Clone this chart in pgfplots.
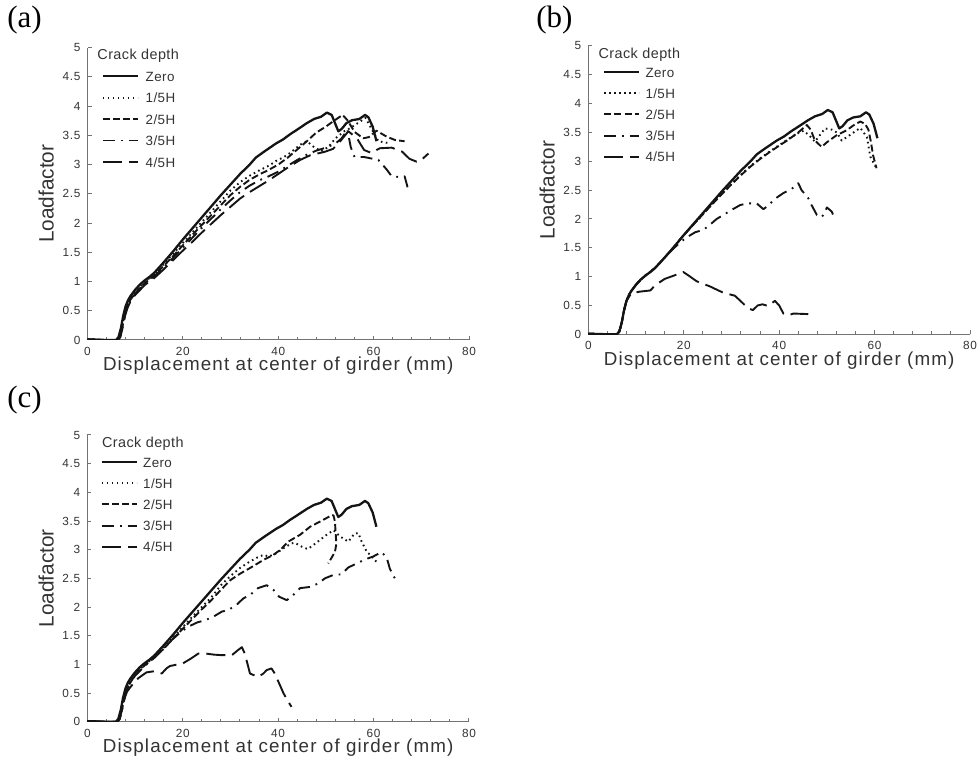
\documentclass[border=0pt]{standalone}
\usepackage{fontspec}
\setmainfont{Liberation Sans}
\newfontfamily\panelfont{Liberation Serif}
\newfontfamily\widefont[LetterSpace=6]{Liberation Sans}
\newfontfamily\legfont[LetterSpace=3]{Liberation Sans}
\usepackage{pgfplots}
\usepackage{pgfplotstable}
\pgfplotsset{compat=1.18}

\definecolor{axgray}{gray}{0.45}
\definecolor{labgray}{gray}{0.2}
\definecolor{curve}{gray}{0.08}

% ---------- load-displacement data (x: mm, y: load factor) ----------
\pgfplotstableread{
x y
0 0.01
2 0.005
4 0
6 0
6.5 0.05
7 0.2
7.5 0.42
8 0.58
8.5 0.68
9 0.75
10 0.86
11 0.95
12 1.02
13 1.08
14 1.15
16 1.33
18 1.52
20 1.72
22 1.91
24 2.1
26 2.29
28 2.48
30 2.66
32 2.84
34 3.0
35.3 3.12
37 3.22
39.5 3.36
41 3.43
42.5 3.52
44 3.6
46 3.71
47.5 3.78
49 3.82
50.2 3.89
51.2 3.85
52.6 3.57
53.3 3.61
54.3 3.71
55.5 3.76
57 3.78
58.2 3.85
58.9 3.81
59.8 3.65
60.6 3.4
}\zero

% (a)
\pgfplotstableread{
x y
0 0.01
3 0
6.2 0
6.7 0.05
7.2 0.22
7.7 0.42
8.2 0.58
9 0.71
10 0.82
12 0.99
14 1.13
16 1.3
18 1.48
20 1.66
22 1.84
24 2.02
26 2.2
28 2.38
30 2.56
32 2.7
34 2.81
36 2.9
38 2.98
39.7 3.07
41 3.12
42.5 3.2
44.6 3.34
46 3.4
47.5 3.3
49 3.23
50.5 3.3
52 3.45
54 3.58
55 3.62
56.5 3.7
58.3 3.8
59.5 3.62
61 3.4
63 3.37
}\aOne
\pgfplotstableread{
x y
0 0.01
3 0
6.3 0
6.8 0.05
7.3 0.22
7.8 0.42
8.3 0.57
9 0.69
10 0.8
12 0.97
14 1.11
16 1.27
18 1.44
20 1.62
22 1.8
24 1.97
26 2.14
28 2.31
30 2.48
32 2.62
34 2.74
36 2.83
38 2.91
40 3.0
42 3.12
44 3.26
46 3.4
48 3.55
50 3.65
51.5 3.74
53.5 3.85
54.5 3.76
56 3.56
57.8 3.45
59 3.47
60.6 3.58
62.7 3.48
64.5 3.42
66.5 3.4
}\aTwo
\pgfplotstableread{
x y
0 0.01
3 0
6.3 0
6.8 0.05
7.3 0.22
7.8 0.42
8.3 0.56
9 0.68
10 0.79
12 0.96
14 1.09
16 1.24
18 1.41
20 1.58
22 1.75
24 1.92
26 2.08
28 2.24
30 2.39
32 2.53
34 2.64
36 2.73
38 2.8
40 2.88
42 2.98
44 3.08
46 3.17
48 3.24
50 3.29
52 3.36
53.3 3.45
54.5 3.6
55.2 3.3
56 3.13
58 3.13
61 3.08
62.7 2.92
63.8 2.8
65.2 2.79
66.5 2.8
67 2.65
67.3 2.54
}\aThree
\pgfplotstableread{
x y
0 0.01
3 0
6.4 0
6.9 0.05
7.4 0.22
7.9 0.42
8.4 0.55
9 0.66
10 0.77
12 0.94
14 1.06
16 1.21
18 1.37
20 1.53
22 1.68
24 1.84
26 1.99
28 2.14
30 2.28
32 2.42
34 2.53
36 2.63
38 2.73
40 2.84
42 2.95
44.6 3.08
46.7 3.16
49.8 3.22
51.5 3.27
53 3.4
54.7 3.57
56.5 3.45
58 3.25
59.5 3.2
61.3 3.28
63.8 3.29
66 3.22
67.5 3.1
69 3.05
70 3.08
71.5 3.19
}\aFour

% (b)
\pgfplotstableread{
x y
0 0.01
3 0
6 0
6.5 0.05
7 0.2
7.5 0.42
8 0.58
8.5 0.68
9 0.75
10 0.86
11 0.95
12 1.02
14 1.15
16 1.33
18 1.52
20 1.72
22 1.9
24 2.08
26 2.26
28 2.44
30 2.61
32 2.77
34 2.92
36 3.05
38 3.17
40 3.28
42 3.39
44 3.49
45.1 3.53
46.3 3.45
47.5 3.34
48.5 3.45
49.6 3.57
51 3.55
52.1 3.5
53.1 3.36
54.9 3.46
57 3.58
58.4 3.42
59.1 3.08
60.4 2.88
}\bOne
\pgfplotstableread{
x y
0 0.01
3 0
6 0
6.5 0.05
7 0.2
7.5 0.42
8 0.58
8.5 0.68
9 0.75
10 0.86
11 0.95
12 1.02
14 1.15
16 1.33
18 1.52
20 1.72
22 1.9
24 2.08
26 2.26
28 2.43
30 2.6
32 2.76
34 2.91
36 3.04
38 3.16
40 3.27
42 3.38
44 3.5
45.8 3.63
46.6 3.55
47.5 3.36
48.9 3.25
50 3.33
52 3.45
54.2 3.54
55.5 3.62
57 3.69
58 3.65
58.7 3.55
59.2 3.35
59.7 3.1
60.4 2.88
}\bTwo
\pgfplotstableread{
x y
0 0.01
3 0
6 0
6.5 0.05
7 0.2
7.5 0.42
8 0.58
8.5 0.68
9 0.75
10 0.86
11 0.95
12 1.02
14 1.15
16 1.33
18 1.5
19.5 1.61
20.6 1.68
22.4 1.77
24.1 1.81
25.5 1.9
26.9 2.0
28.3 2.07
30.1 2.16
31.8 2.24
33.2 2.27
35.3 2.27
36.7 2.17
37.5 2.22
39.3 2.36
40.9 2.45
42.6 2.52
44 2.62
44.7 2.5
46.1 2.36
46.8 2.24
47.9 2.07
48.9 2.03
49.5 2.1
50 2.2
51 2.13
51.7 2.0
}\bThree
\pgfplotstableread{
x y
0 0.01
3 0
6 0
6.5 0.05
7 0.2
7.5 0.42
8 0.58
9 0.71
10.8 0.74
13 0.76
14 0.85
16 0.96
18 1.02
19.9 1.08
21 1.02
22.7 0.92
25.5 0.83
28.3 0.72
30.7 0.67
32 0.57
33.5 0.45
34.5 0.42
35.5 0.5
36.5 0.52
37.7 0.49
39.1 0.58
40 0.5
40.9 0.36
41.9 0.33
43 0.36
46.1 0.35
}\bFour

% (c)
\pgfplotstableread{
x y
0 0.01
3 0
6.2 0
6.7 0.05
7.2 0.22
7.7 0.42
8.2 0.58
9 0.71
10 0.83
12 0.99
14 1.13
16 1.29
18 1.47
20 1.65
22 1.83
24 2.0
26 2.17
28 2.38
30 2.54
32 2.68
34 2.79
36 2.88
37 2.91
38 2.88
39.7 2.94
41 3.02
42.8 3.11
43.5 3.12
45 3.05
46.2 3.01
48 3.12
50 3.25
51.6 3.34
53 3.23
54.7 3.14
56 3.28
56.8 3.29
57.5 3.14
58.6 2.96
59.3 2.91
60.7 2.78
}\cOne
\pgfplotstableread{
x y
0 0.01
3 0
6.3 0
6.8 0.05
7.3 0.22
7.8 0.42
8.3 0.56
9 0.68
10 0.81
12 0.98
14 1.12
16 1.27
18 1.45
20 1.62
22 1.79
24 1.96
26 2.12
28 2.3
30 2.47
32 2.58
34.1 2.68
36.9 2.82
39 2.91
40.5 3.0
42.1 3.14
44.6 3.26
46.7 3.4
49 3.5
51.2 3.6
51.6 3.6
51.9 3.49
52.2 3.1
51.9 2.96
50.5 2.76
}\cTwo
\pgfplotstableread{
x y
0 0.01
3 0
6.3 0
6.8 0.05
7.3 0.22
7.8 0.42
8.3 0.56
9 0.68
10 0.8
12 0.97
14 1.11
16 1.27
18 1.45
20 1.59
21.5 1.67
23 1.73
24.7 1.77
26.4 1.83
28.2 1.92
29.6 1.95
31.3 2.04
32.7 2.15
34.1 2.21
35.8 2.33
37.6 2.38
39 2.3
40.2 2.18
41.8 2.12
42.8 2.18
44.6 2.33
46.7 2.35
48.4 2.41
49.8 2.5
51.6 2.56
53.3 2.57
54.7 2.69
56.5 2.76
58.2 2.83
59.9 2.88
61.7 2.96
62.8 2.85
63.4 2.67
64.1 2.56
64.8 2.44
}\cThree
\pgfplotstableread{
x y
0 0.01
3 0
6.3 0
6.8 0.05
7.3 0.22
7.8 0.4
8.3 0.52
9 0.6
10 0.7
10.7 0.76
12.4 0.86
14 0.88
15.6 0.84
16.6 0.93
17.3 0.97
18.4 0.99
20.1 1.02
21.7 1.1
23.3 1.19
24.7 1.19
26.5 1.17
28.2 1.16
30.3 1.16
31.6 1.25
32.4 1.3
33 1.19
33.6 1.0
34.1 0.84
35.8 0.78
36.9 0.84
37.6 0.9
38.6 0.93
39.3 0.84
40.2 0.67
41.1 0.5
42.1 0.35
42.8 0.26
}\cFour

\pgfplotsset{
  girder/.style={
    scale only axis,
    anchor=south west,
    xmin=0, xmax=80, ymin=0, ymax=5,
    axis x line*=bottom, axis y line*=left,
    axis line style={axgray, line width=0.5pt, -},
    xtick={0,20,40,60,80}, minor x tick num=4,
    ytick={0,0.5,1,1.5,2,2.5,3,3.5,4,4.5,5},
    tick align=inside,
    major tick length=2pt, minor tick length=1.6pt,
    every tick/.style={axgray, line width=0.5pt},
    ticklabel style={font=\widefont\fontsize{5.9}{6}\selectfont, text=labgray},
    /pgf/number format/assume math mode=true,
    xlabel={Displacement at center of girder (mm)},
    ylabel={Loadfactor},
    xlabel style={at={(axis description cs:0.5,0)}, anchor=base,
      yshift=-15.5pt, font=\widefont\fontsize{9.4}{11}\selectfont, text=labgray},
    ylabel style={at={(axis description cs:-0.108,0.5)}, anchor=center,
      font=\fontsize{10.4}{12}\selectfont, text=labgray},
    legend image code/.code={\draw[##1] (0pt,0pt) -- (17.5pt,0pt);},
    legend cell align=left,
    legend style={draw=none, fill=none, inner sep=0pt, outer sep=0pt,
      anchor=north west, row sep=5.5pt, column sep=3.4pt,
      font=\legfont\fontsize{6.7}{6.7}\selectfont, text=labgray,
      nodes={inner sep=0pt, text height=5.2pt, text depth=0pt}},
  },
  zeroline/.style={curve, line width=1.15pt, line join=round},
  oneline/.style={curve, line width=0.95pt, line join=round, dash pattern=on 0.8pt off 1.7pt},
  twoline/.style={curve, line width=0.95pt, line join=round, dash pattern=on 3.5pt off 1.6pt},
  threeline/.style={curve, line width=0.95pt, line join=round, dash pattern=on 6pt off 3pt on 0.9pt off 3pt},
  fourline/.style={curve, line width=0.95pt, line join=round, dash pattern=on 9.5pt off 3.5pt},
}

\newcommand\cracktitle[2]{%
  \node[anchor=base west, inner sep=0pt, text=labgray,
        font=\legfont\fontsize{7.2}{7.2}\selectfont] at (rel axis cs:#1,#2) {Crack depth};}

\begin{document}
\begin{tikzpicture}
\useasboundingbox (0,0) rectangle (489pt,382.5pt);

% ---- (a) ----
\begin{axis}[girder, at={(43.75pt,212.5pt)}, width=190.75pt, height=146.15pt,
  legend style={at={(rel axis cs:0.037,0.920)}}]
\addplot[zeroline] table {\zero};   \addlegendentry{Zero}
\addplot[oneline] table {\aOne};    \addlegendentry{1/5H}
\addplot[twoline] table {\aTwo};    \addlegendentry{2/5H}
\addplot[threeline] table {\aThree};\addlegendentry{3/5H}
\addplot[fourline] table {\aFour};  \addlegendentry{4/5H}
\cracktitle{0.025}{0.958}
\end{axis}

% ---- (b) ----
\begin{axis}[girder, at={(294.15pt,215.35pt)}, width=190.85pt, height=144.15pt,
  legend style={at={(rel axis cs:0.0385,0.928)}, column sep=2.6pt, row sep=5.4pt}]
\addplot[zeroline] table {\zero};   \addlegendentry{Zero}
\addplot[oneline] table {\bOne};    \addlegendentry{1/5H}
\addplot[twoline] table {\bTwo};    \addlegendentry{2/5H}
\addplot[threeline] table {\bThree};\addlegendentry{3/5H}
\addplot[fourline] table {\bFour};  \addlegendentry{4/5H}
\cracktitle{0.026}{0.955}
\end{axis}

% ---- (c) ----
\begin{axis}[girder, at={(43.65pt,21.65pt)}, width=190.85pt, height=143.35pt,
  legend style={at={(rel axis cs:0.035,0.924)}, column sep=2.6pt, row sep=5.4pt}]
\addplot[zeroline] table {\zero};   \addlegendentry{Zero}
\addplot[oneline] table {\cOne};    \addlegendentry{1/5H}
\addplot[twoline] table {\cTwo};    \addlegendentry{2/5H}
\addplot[threeline] table {\cThree};\addlegendentry{3/5H}
\addplot[fourline] table {\cFour};  \addlegendentry{4/5H}
\cracktitle{0.0377}{0.955}
\end{axis}

% panel letters
\node[anchor=base west, inner sep=0pt, font=\panelfont\fontsize{15.5}{15.5}\selectfont] at (3.5pt,368.5pt) {(a)};
\node[anchor=base west, inner sep=0pt, font=\panelfont\fontsize{15.5}{15.5}\selectfont] at (268pt,368.5pt) {(b)};
\node[anchor=base west, inner sep=0pt, font=\panelfont\fontsize{15.5}{15.5}\selectfont] at (3.5pt,178.5pt) {(c)};
\end{tikzpicture}
\end{document}
